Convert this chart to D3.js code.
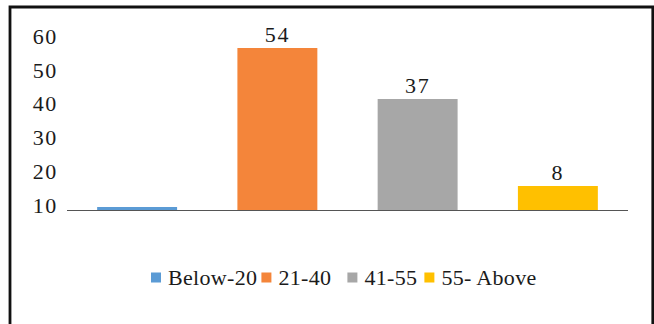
<!DOCTYPE html>
<html>
<head>
<meta charset="utf-8">
<script src="https://cdn.jsdelivr.net/npm/d3@7"></script>
<style>
  html, body { margin: 0; padding: 0; background: #fff; }
  svg { display: block; }
</style>
</head>
<body>
<svg id="chart" width="654" height="324"></svg>
<script>
// Data
const categories = ["Below-20", "21-40", "41-55", "55- Above"];
const values = [1, 54, 37, 8];
const colors = ["#5B9BD5", "#F4853A", "#A7A7A7", "#FFC000"];
const tickLabels = [10, 20, 30, 40, 50, 60];

const SX = 1.1;   // slight horizontal stretch of text
const FS = 20;

const svg = d3.select("#chart");

// frame (bottom edge is outside the picture)
svg.append("path")
  .attr("d", "M10,330 L10,7 L652.8,7 L652.8,330")
  .attr("fill", "none").attr("stroke", "#111").attr("stroke-width", 2.8);

const x = d3.scaleBand().domain(categories).range([67, 628]).paddingInner(0.43).paddingOuter(0.215);
const y = d3.scaleLinear().domain([0, 60]).range([210, 30]);
// scale for the tick labels as printed in the reference
const yTicks = d3.scaleLinear().domain([10, 60]).range([206, 37.5]);

function styleText(sel, ls) {
  return sel.attr("font-family", "Liberation Serif")
    .attr("font-size", FS)
    .attr("letter-spacing", ls).attr("fill", "#1b1b1b");
}

// y axis labels via d3 axis
const yAxis = d3.axisLeft(yTicks).tickValues(tickLabels).tickSize(0).tickPadding(0);
const gy = svg.append("g").call(yAxis);
gy.attr("font-family", "Liberation Serif").attr("font-size", FS);
gy.select(".domain").remove();
gy.selectAll(".tick").attr("transform", null);
gy.selectAll(".tick text")
  .attr("x", null).attr("dy", null).attr("y", null)
  .attr("text-anchor", "end")
  .attr("transform", d => `translate(58,${yTicks(d) + 6.5}) scale(${SX},1)`)
  .call(styleText, 1.5);

// bars
svg.append("g").selectAll("rect").data(categories).join("rect")
  .attr("x", d => x(d))
  .attr("width", x.bandwidth())
  .attr("y", (d, i) => y(values[i]))
  .attr("height", (d, i) => y(0) - y(values[i]))
  .attr("fill", (d, i) => colors[i]);

// baseline
svg.append("line")
  .attr("x1", 67).attr("x2", 628)
  .attr("y1", y(0) + 0.5).attr("y2", y(0) + 0.5)
  .attr("stroke", "#555").attr("stroke-width", 1.2);

// data labels (the tiny first bar has none in the reference)
svg.append("g").selectAll("text").data(categories.slice(1)).join("text")
  .attr("transform", d => {
    const i = categories.indexOf(d);
    return `translate(${x(d) + x.bandwidth() / 2},${y(values[i]) - 6}) scale(${SX},1)`;
  })
  .attr("text-anchor", "middle")
  .call(styleText, 1.5)
  .text(d => values[categories.indexOf(d)]);

// legend
const lg = svg.append("g");
const items = lg.selectAll("g").data(categories).join("g");
items.append("rect").attr("width", 10).attr("height", 10).attr("y", 272.5)
  .attr("fill", (d, i) => colors[i]);
items.append("text").call(styleText, 0.3).text(d => d);
let cx = 0;
const gaps = [4, 16, 7, 0];
items.each(function(d, i) {
  const g = d3.select(this);
  const tw = g.select("text").node().getComputedTextLength() * SX;
  g.select("rect").attr("x", cx);
  g.select("text").attr("transform", `translate(${cx + 17},285) scale(${SX},1)`);
  cx += 17 + tw + gaps[i];
});
lg.attr("transform", "translate(151,0)");
</script>
</body>
</html>
